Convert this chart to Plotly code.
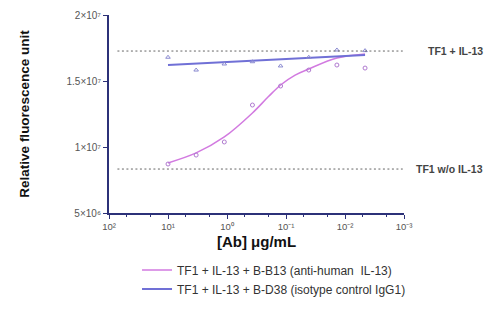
import plotly.graph_objects as go

# Concentrations (µg/mL), 3-fold dilution series
conc = [10, 3.333, 1.111, 0.3704, 0.1235, 0.04115, 0.01372, 0.004572]

# Anti-human IL-13 (B-B13) measurements
b13_vals = [8.71e6, 9.39e6, 1.038e7, 1.318e7, 1.462e7, 1.583e7, 1.621e7, 1.598e7]
# Isotype control (B-D38) measurements
d38_vals = [1.68e7, 1.583e7, 1.629e7, 1.646e7, 1.614e7, 1.68e7, 1.735e7, 1.73e7]

# Fitted curve for B-B13
b13_fit_x = [10, 3.333, 1.111, 0.3704, 0.2, 0.1235, 0.07, 0.04115, 0.01372, 0.004572]
b13_fit_y = [8.79e6, 9.55e6, 1.076e7, 1.258e7, 1.38e7, 1.47e7, 1.545e7, 1.591e7, 1.674e7, 1.705e7]

# Fitted line for B-D38
d38_fit_x = [10, 0.004572]
d38_fit_y = [1.621e7, 1.697e7]

# Reference levels
ref_levels = [1.727e7, 8.33e6]
ref_labels = ["TF1 + IL-13", "TF1 w/o IL-13"]
ref_line_x = [72, 0.00105]

y_ticks = [5e6, 1e7, 1.5e7, 2e7]
y_ticktext = ["5×10⁶", "1×10⁷", "1.5×10⁷", "2×10⁷"]
x_ticks = [100, 10, 1, 0.1, 0.01, 0.001]
x_ticktext = ["10²", "10¹", "10⁰", "10⁻¹", "10⁻²", "10⁻³"]

names = ["TF1 + IL-13 + B-B13 (anti-human  IL-13)", "TF1 + IL-13 + B-D38 (isotype control IgG1)"]

pink = "#d27ae0"
blue = "#7070d6"
axis_col = "#2c3178"

fig = go.Figure()

fig.add_trace(go.Scatter(x=b13_fit_x, y=b13_fit_y, mode="lines", line=dict(color=pink, width=1.5, shape="spline"),
                         name=names[0]))
fig.add_trace(go.Scatter(x=d38_fit_x, y=d38_fit_y, mode="lines", line=dict(color=blue, width=2),
                         name=names[1]))
fig.add_trace(go.Scatter(x=conc, y=b13_vals, mode="markers", showlegend=False,
                         marker=dict(symbol="circle-open", size=4, color="#b07ad0", line=dict(width=1))))
fig.add_trace(go.Scatter(x=conc, y=d38_vals, mode="markers", showlegend=False,
                         marker=dict(symbol="triangle-up-open", size=4, color="#8a8ad0", line=dict(width=1))))

for lvl, lab in zip(ref_levels, ref_labels):
    fig.add_shape(type="line", xref="x", yref="y", x0=ref_line_x[0], x1=ref_line_x[1], y0=lvl, y1=lvl,
                  line=dict(color="#666", width=1, dash="2px,2.5px"))
    fig.add_annotation(x=1.2746, xref="paper", xanchor="right", y=lvl, yref="y", text="<b>" + lab + "</b>",
                       showarrow=False, font=dict(size=10.5, color="#444", family="Liberation Sans"),
                       yanchor="middle")

fig.update_xaxes(type="log", range=[2, -3], tickvals=x_ticks, ticktext=x_ticktext,
                 showline=True, linecolor=axis_col, linewidth=2, ticks="outside", ticklen=4,
                 tickcolor=axis_col, showgrid=False, zeroline=False, automargin=False,
                 minor=dict(ticks="outside", ticklen=2, tickcolor=axis_col, showgrid=False),
                 tickfont=dict(size=9.5, color="#555"),
                 title=dict(text="<b>[Ab] μg/mL</b>", font=dict(size=15, color="#111"), standoff=5))
fig.update_yaxes(range=[5e6, 2e7], tickvals=y_ticks, ticktext=y_ticktext,
                 showline=True, linecolor=axis_col, linewidth=2, ticks="outside", ticklen=4,
                 tickcolor=axis_col, showgrid=False, zeroline=False, automargin=False,
                 tickfont=dict(size=10, color="#555"),
                 title=dict(text="<b>Relative fluorescence unit</b>", font=dict(size=13.5, color="#111"), standoff=34))

fig.update_layout(
    width=477, height=304,
    margin=dict(l=101, r=81, t=7, b=99),
    plot_bgcolor="white", paper_bgcolor="white",
    font=dict(family="Liberation Sans, Arial, sans-serif"),
    legend=dict(x=0.095, y=-0.215, xanchor="left", yanchor="top",
                font=dict(size=12, color="#333"), tracegroupgap=0, itemwidth=30),
)

fig.write_html("out.html")
